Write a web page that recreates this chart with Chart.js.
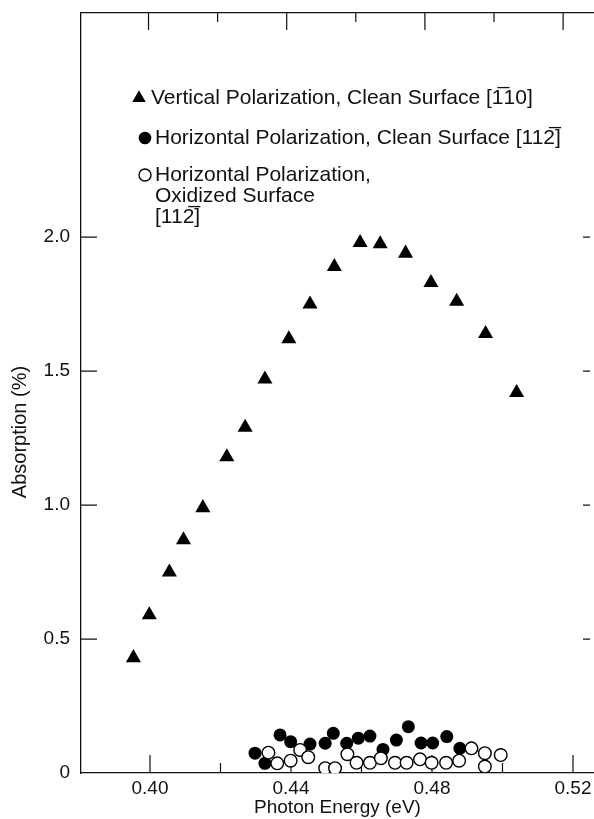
<!DOCTYPE html>
<html>
<head>
<meta charset="utf-8">
<script src="https://cdn.jsdelivr.net/npm/chart.js"></script>
<style>
  body { margin: 0; background: #fff; }
  #wrap { width: 594px; height: 819px; }
</style>
</head>
<body>
<div id="wrap"><canvas id="chart"></canvas></div>
<script>
// values
const vertEnergy = [0.3953, 0.3998, 0.4055, 0.4095, 0.4150, 0.4218, 0.4270, 0.4326, 0.4394,
                    0.4454, 0.4523, 0.4596, 0.4653, 0.4725, 0.4797, 0.4870, 0.4952, 0.5040];
const vertAbs = [0.43, 0.59, 0.75, 0.87, 0.99, 1.18, 1.29, 1.47, 1.62,
                 1.75, 1.89, 1.98, 1.975, 1.94, 1.83, 1.76, 1.64, 1.42];

const cleanEnergy = [0.4298, 0.4326, 0.4369, 0.4399, 0.4454, 0.4497, 0.4520, 0.4558, 0.4591,
                     0.4624, 0.4661, 0.4699, 0.4733, 0.4769, 0.4802, 0.4842, 0.4879];
const cleanAbs = [0.074, 0.036, 0.142, 0.117, 0.108, 0.111, 0.148, 0.111, 0.130,
                  0.138, 0.088, 0.123, 0.173, 0.112, 0.112, 0.136, 0.092];

const oxEnergy = [0.4336, 0.4361, 0.4399, 0.4426, 0.4449, 0.4497, 0.4525, 0.4560, 0.4586, 0.4624, 0.4655,
                  0.4695, 0.4728, 0.4766, 0.4799, 0.4840, 0.4877, 0.4912, 0.4950, 0.4950, 0.4995];
const oxAbs = [0.076, 0.036, 0.046, 0.086, 0.059, 0.018, 0.018, 0.070, 0.038, 0.038, 0.055,
               0.038, 0.038, 0.051, 0.038, 0.038, 0.046, 0.092, 0.074, 0.024, 0.067];

const xTicks = [0.40, 0.42, 0.44, 0.46, 0.48, 0.50, 0.52];
const xLabelled = ['0.40', '0.44', '0.48', '0.52'];
const yTicks = [0, 0.5, 1.0, 1.5, 2.0];
const topTicks = [1, 2, 3, 4, 5, 6, 7];

const legendLines = [
  ['Vertical Polarization, Clean Surface [1\u030510]'],
  ['Horizontal Polarization, Clean Surface [112\u0305]'],
  ['Horizontal Polarization,', 'Oxidized Surface', '[112\u0305]']
];

const ink = '#111';
const family = '"Liberation Sans", Arial, sans-serif';
Chart.defaults.font.family = family;
Chart.defaults.font.size = 19;
Chart.defaults.color = ink;

const pts = (xs, ys) => xs.map((x, i) => ({ x: x, y: ys[i] }));

const datasets = [
  { label: legendLines[2].join(' '), data: pts(oxEnergy, oxAbs), pointStyle: 'circle',
    pointRadius: 6.3, backgroundColor: '#fff', borderColor: '#000', borderWidth: 1.4, order: 1 },
  { label: legendLines[1][0], data: pts(cleanEnergy, cleanAbs), pointStyle: 'circle',
    pointRadius: 6.5, backgroundColor: '#000', borderColor: '#000', borderWidth: 0, order: 2 },
  { label: legendLines[0][0], data: pts(vertEnergy, vertAbs), pointStyle: 'triangle',
    pointRadius: 8.7, backgroundColor: '#000', borderColor: '#000', borderWidth: 0, order: 3 }
];

// no automatic label padding: the frame sits where the figure has it
const noPad = s => { s.paddingLeft = 0; s.paddingRight = 0; s.paddingTop = 0; s.paddingBottom = 0; };

// ticks point into the plot on all four sides
const frameTicks = {
  id: 'frameTicks',
  beforeDatasetsDraw(chart) {
    const { ctx, chartArea: a, scales } = chart;
    ctx.save();
    ctx.strokeStyle = ink;
    ctx.lineWidth = 1.2;
    ctx.beginPath();
    scales.x.ticks.forEach(t => {
      const px = scales.x.getPixelForValue(t.value);
      ctx.moveTo(px, a.bottom);
      ctx.lineTo(px, a.bottom - (t.label ? 18 : 10));
    });
    scales.x2.ticks.forEach(t => {
      const px = scales.x2.getPixelForValue(t.value);
      ctx.moveTo(px, a.top);
      ctx.lineTo(px, a.top + (t.value % 2 ? 17 : 9));
    });
    scales.y.ticks.forEach(t => {
      if (t.value === 0) return;
      const py = scales.y.getPixelForValue(t.value);
      ctx.moveTo(a.left, py);
      ctx.lineTo(a.left + 16, py);
      ctx.moveTo(a.right - 4, py);
      ctx.lineTo(a.right - 11, py);
    });
    ctx.stroke();
    ctx.restore();
  },
  afterDraw(chart) {
    const { ctx } = chart;
    ctx.save();
    ctx.fillStyle = ink;
    ctx.font = '20px ' + family;
    ctx.textAlign = 'center';
    ctx.textBaseline = 'middle';
    ctx.translate(20, 432);
    ctx.rotate(-Math.PI / 2);
    ctx.fillText('Absorption (%)', 0, 0);
    ctx.restore();

    // legend block
    ctx.save();
    ctx.font = '21px ' + family;
    ctx.textBaseline = 'middle';
    ctx.textAlign = 'left';
    ctx.fillStyle = ink;
    const rows = [
      { ds: 2, mx: 139, tx: 151, y: 98, r: 7.8 },
      { ds: 1, mx: 145, tx: 155, y: 138, r: 6.3 },
      { ds: 0, mx: 145, tx: 155, y: 175, r: 6 }
    ];
    rows.forEach((row, i) => {
      const d = datasets[row.ds];
      ctx.save();
      ctx.fillStyle = d.backgroundColor;
      ctx.strokeStyle = d.borderColor;
      ctx.lineWidth = d.borderWidth;
      Chart.helpers.drawPoint(ctx, { pointStyle: d.pointStyle, radius: row.r, borderWidth: d.borderWidth, rotation: 0 }, row.mx, row.y);
      ctx.restore();
      legendLines[i].forEach((line, j) => {
        ctx.fillText(line, row.tx, row.y + j * 21);
      });
    });
    ctx.restore();
  }
};

new Chart(document.getElementById('chart'), {
  type: 'scatter',
  data: { datasets: datasets },
  options: {
    responsive: true,
    maintainAspectRatio: false,
    animation: false,
    layout: { padding: 0, autoPadding: false },
    plugins: { legend: { display: false }, tooltip: { enabled: false } },
    scales: {
      x: {
        type: 'linear', position: 'bottom', min: 0.38043, max: 0.52596,
        afterBuildTicks: s => { s.ticks = xTicks.map(v => ({ value: v })); },
        afterFit: s => { s.height = 46; noPad(s); },
        grid: { display: false, drawTicks: false },
        border: { display: true, color: ink, width: 1.3 },
        ticks: {
          autoSkip: false, maxRotation: 0, padding: 4,
          callback: v => xLabelled.find(l => Math.abs(parseFloat(l) - v) < 1e-6) || ''
        },
        title: { display: true, text: 'Photon Energy (eV)', padding: { top: 0, bottom: 0 } }
      },
      x2: {
        type: 'linear', position: 'top', min: 0.023, max: 7.447,
        afterBuildTicks: s => { s.ticks = topTicks.map(v => ({ value: v })); },
        afterFit: s => { s.height = 13; noPad(s); },
        grid: { display: false, drawTicks: false },
        border: { display: true, color: ink, width: 1.2 },
        ticks: { display: false }
      },
      y: {
        type: 'linear', position: 'left', min: 0, max: 2.837,
        afterBuildTicks: s => { s.ticks = yTicks.map(v => ({ value: v })); },
        afterFit: s => { s.width = 81; noPad(s); },
        grid: { display: false, drawTicks: false },
        border: { display: true, color: ink, width: 1.3 },
        ticks: { padding: 11, callback: v => (v === 0 ? '0' : v.toFixed(1)) }
      }
    }
  },
  plugins: [frameTicks]
});
</script>
</body>
</html>
